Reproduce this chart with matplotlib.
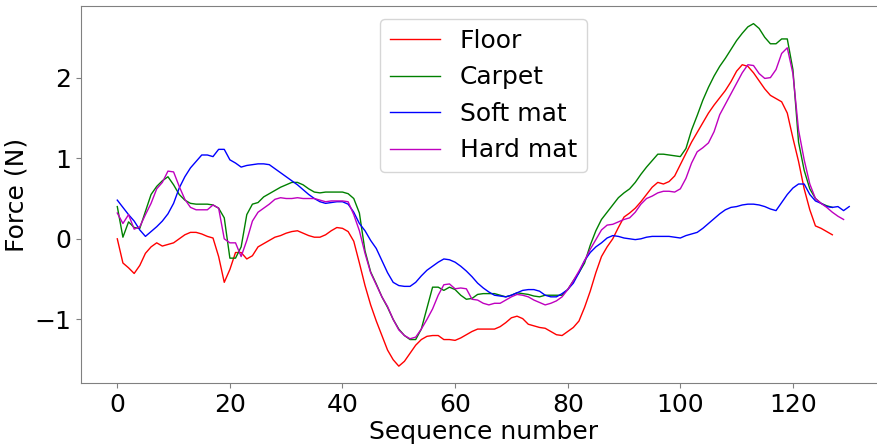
import matplotlib
matplotlib.use("Agg")
import matplotlib.pyplot as plt
import numpy as np

labels = ["Floor", "Carpet", "Soft mat", "Hard mat"]
colors = ["r", "g", "b", "m"]

floor = [0.00, -0.30, -0.36, -0.43, -0.33, -0.18, -0.10, -0.05, -0.09, -0.07,
         -0.05, 0.00, 0.05, 0.08, 0.08, 0.06, 0.03, 0.01, -0.22, -0.54,
         -0.38, -0.17, -0.17, -0.25, -0.21, -0.10, -0.06, -0.02, 0.02, 0.04,
         0.07, 0.09, 0.10, 0.07, 0.04, 0.02, 0.02, 0.05, 0.10, 0.14,
         0.13, 0.09, -0.03, -0.30, -0.58, -0.82, -1.02, -1.20, -1.38, -1.50,
         -1.58, -1.52, -1.42, -1.32, -1.25, -1.21, -1.20, -1.20, -1.25, -1.25,
         -1.26, -1.23, -1.19, -1.15, -1.12, -1.12, -1.12, -1.12, -1.09, -1.04,
         -0.98, -0.96, -0.99, -1.06, -1.08, -1.10, -1.11, -1.15, -1.19, -1.20,
         -1.15, -1.10, -1.02, -0.85, -0.65, -0.42, -0.22, -0.10, 0.00, 0.14,
         0.27, 0.32, 0.38, 0.46, 0.55, 0.64, 0.70, 0.68, 0.71, 0.78,
         0.92, 1.06, 1.20, 1.32, 1.44, 1.56, 1.66, 1.75, 1.84, 1.95,
         2.08, 2.16, 2.14, 2.06, 1.96, 1.86, 1.78, 1.74, 1.70, 1.56,
         1.25, 0.96, 0.62, 0.36, 0.16, 0.13, 0.09, 0.05]

carpet = [0.40, 0.02, 0.21, 0.14, 0.13, 0.34, 0.55, 0.65, 0.72, 0.77,
          0.67, 0.55, 0.48, 0.44, 0.43, 0.43, 0.43, 0.42, 0.38, 0.26,
          -0.24, -0.24, -0.10, 0.30, 0.43, 0.45, 0.52, 0.56, 0.60, 0.64,
          0.67, 0.70, 0.70, 0.67, 0.62, 0.58, 0.57, 0.58, 0.58, 0.58,
          0.58, 0.56, 0.50, 0.32, -0.15, -0.41, -0.56, -0.72, -0.85, -1.00,
          -1.12, -1.20, -1.25, -1.25, -1.12, -0.86, -0.60, -0.60, -0.64, -0.60,
          -0.63, -0.70, -0.75, -0.74, -0.69, -0.68, -0.68, -0.68, -0.70, -0.72,
          -0.70, -0.67, -0.68, -0.69, -0.71, -0.72, -0.70, -0.70, -0.70, -0.70,
          -0.63, -0.52, -0.42, -0.30, -0.08, 0.10, 0.24, 0.33, 0.42, 0.51,
          0.57, 0.62, 0.70, 0.80, 0.89, 0.97, 1.05, 1.05, 1.04, 1.03,
          1.02, 1.12, 1.35, 1.53, 1.72, 1.88, 2.02, 2.14, 2.24, 2.35,
          2.46, 2.55, 2.63, 2.67, 2.61, 2.50, 2.42, 2.42, 2.48, 2.48,
          2.10, 1.20, 0.85, 0.62, 0.50, 0.44, 0.41, 0.39]

soft_mat = [0.48, 0.39, 0.30, 0.22, 0.11, 0.03, 0.09, 0.15, 0.22, 0.31,
            0.44, 0.63, 0.77, 0.88, 0.96, 1.04, 1.04, 1.02, 1.11, 1.11,
            0.98, 0.94, 0.89, 0.91, 0.92, 0.93, 0.93, 0.92, 0.87, 0.82,
            0.77, 0.72, 0.67, 0.61, 0.55, 0.50, 0.46, 0.44, 0.45, 0.46,
            0.46, 0.43, 0.33, 0.19, 0.10, -0.02, -0.12, -0.27, -0.42, -0.54,
            -0.58, -0.59, -0.59, -0.54, -0.46, -0.39, -0.34, -0.29, -0.25, -0.26,
            -0.29, -0.34, -0.40, -0.47, -0.55, -0.61, -0.66, -0.70, -0.71, -0.72,
            -0.70, -0.67, -0.64, -0.63, -0.63, -0.65, -0.70, -0.72, -0.72, -0.68,
            -0.63, -0.55, -0.42, -0.27, -0.17, -0.10, -0.05, 0.01, 0.04, 0.03,
            0.01, 0.00, -0.01, 0.00, 0.02, 0.03, 0.03, 0.03, 0.03, 0.02,
            0.01, 0.04, 0.06, 0.08, 0.13, 0.19, 0.25, 0.31, 0.36, 0.39,
            0.40, 0.42, 0.43, 0.43, 0.42, 0.40, 0.37, 0.35, 0.45, 0.55,
            0.63, 0.68, 0.68, 0.55, 0.47, 0.44, 0.40, 0.39, 0.40, 0.35,
            0.40]

hard_mat = [0.32, 0.19, 0.30, 0.12, 0.15, 0.30, 0.44, 0.62, 0.70, 0.84,
            0.83, 0.65, 0.49, 0.39, 0.36, 0.36, 0.36, 0.42, 0.38, 0.00,
            -0.05, -0.05, -0.22, -0.02, 0.22, 0.33, 0.38, 0.43, 0.49, 0.51,
            0.50, 0.50, 0.51, 0.50, 0.50, 0.50, 0.48, 0.46, 0.47, 0.47,
            0.47, 0.46, 0.30, 0.10, -0.18, -0.42, -0.57, -0.72, -0.84, -1.00,
            -1.13, -1.20, -1.24, -1.22, -1.12, -1.00, -0.87, -0.70, -0.57, -0.56,
            -0.62, -0.61, -0.62, -0.75, -0.76, -0.80, -0.82, -0.80, -0.80, -0.76,
            -0.72, -0.69, -0.70, -0.72, -0.76, -0.79, -0.82, -0.80, -0.77, -0.72,
            -0.63, -0.52, -0.40, -0.27, -0.13, -0.01, 0.11, 0.17, 0.18, 0.21,
            0.24, 0.26, 0.33, 0.43, 0.50, 0.53, 0.57, 0.59, 0.59, 0.58,
            0.62, 0.75, 0.94, 1.08, 1.13, 1.19, 1.33, 1.54, 1.67, 1.80,
            1.93, 2.06, 2.16, 2.15, 2.05, 1.99, 2.00, 2.10, 2.30, 2.37,
            2.05, 1.35, 0.98, 0.68, 0.50, 0.44, 0.39, 0.33, 0.28, 0.24]

series = [floor, carpet, soft_mat, hard_mat]

fig = plt.figure(figsize=(8.78, 4.45), dpi=100)
ax = fig.add_axes([0.0919, 0.1387, 0.917, 0.8467])
for vals, lab, col in zip(series, labels, colors):
    ax.plot(np.arange(len(vals)), vals, color=col, lw=1.0, label=lab)

for sp in ax.spines.values():
    sp.set_color("0.5")
ax.set_yticks([-1, 0, 1, 2])
ax.tick_params(labelsize=18, color="0.5")
ax.set_xlabel("Sequence number", fontsize=18, labelpad=2)
ax.set_ylabel("Force (N)", fontsize=18)
ax.legend(loc="upper center", fontsize=18)
fig.savefig("out.png", dpi=100)
